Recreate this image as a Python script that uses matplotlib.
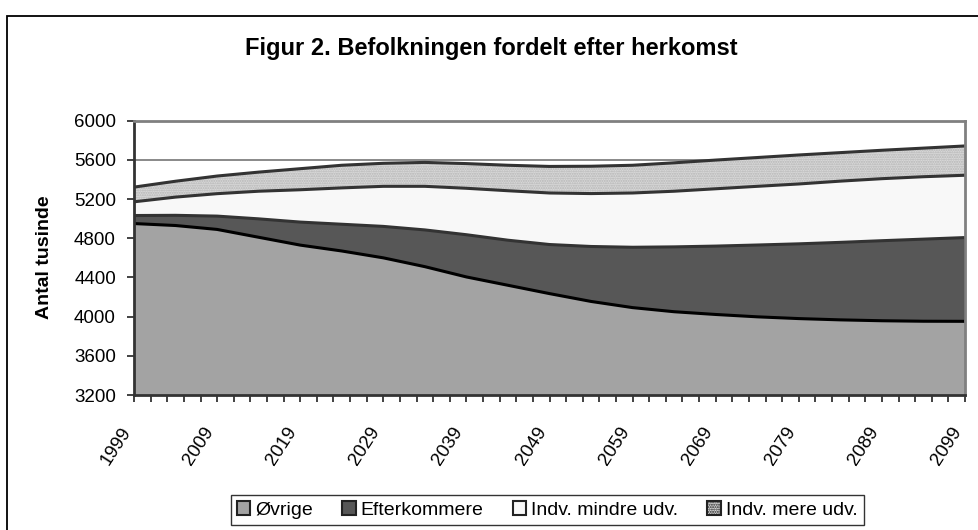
import matplotlib
matplotlib.use("Agg")
import matplotlib.pyplot as plt
import numpy as np
from matplotlib.patches import Patch, Rectangle
from matplotlib.transforms import ScaledTranslation

plt.rcParams['font.family'] = ['Liberation Sans', 'DejaVu Sans']

years = [1999, 2004, 2009, 2014, 2019, 2024, 2029, 2034, 2039, 2044, 2049,
         2054, 2059, 2064, 2069, 2074, 2079, 2084, 2089, 2094, 2099]
ovrige = [4950, 4930, 4890, 4810, 4730, 4670, 4600, 4510, 4405, 4320, 4235,
          4155, 4092, 4050, 4022, 3998, 3980, 3967, 3958, 3953, 3952]
efterkommere = [82, 104, 136, 188, 235, 273, 321, 375, 431, 460, 501,
                561, 616, 662, 698, 733, 763, 791, 817, 838, 855]
indv_mindre = [140, 186, 229, 282, 330, 371, 409, 445, 474, 505, 526,
               540, 554, 568, 585, 599, 611, 625, 633, 637, 636]
indv_mere = [150, 162, 180, 195, 215, 231, 235, 244, 252, 260, 271,
             279, 283, 290, 293, 294, 296, 291, 290, 292, 299]

series_names = ["Øvrige", "Efterkommere", "Indv. mindre udv.", "Indv. mere udv."]
title = "Figur 2. Befolkningen fordelt efter herkomst"
ylabel = "Antal tusinde"
yticks = [3200, 3600, 4000, 4400, 4800, 5200, 5600, 6000]
xtick_years = list(range(1999, 2100, 10))

fig = plt.figure(figsize=(9.79, 5.30), dpi=100)
ax = fig.add_axes([0.1369, 0.2547, 0.8488, 0.5176])

x = np.array(years)
s1 = np.array(ovrige, dtype=float)
s2 = s1 + np.array(efterkommere)
s3 = s2 + np.array(indv_mindre)
s4 = s3 + np.array(indv_mere)

ymin = 3200
ax.fill_between(x, ymin, s1, facecolor='#a3a3a3', edgecolor='none', zorder=2)
ax.fill_between(x, s1, s2, facecolor='#575757', edgecolor='none', zorder=2)
ax.fill_between(x, s2, s3, facecolor='#f8f8f8', edgecolor='none', zorder=2)
ax.fill_between(x, s3, s4, facecolor='#d9d9d9', edgecolor='none', zorder=2)
ax.fill_between(x, s3, s4, facecolor='none', edgecolor='#b4b4b4', hatch='.......',
                linewidth=0, zorder=2)

ax.plot(x, s4, color='#333333', lw=2.2, zorder=3)
ax.plot(x, s3, color='#333333', lw=2.2, zorder=3)
ax.plot(x, s2, color='#333333', lw=2.2, zorder=3)
ax.plot(x, s1, color='#000000', lw=2.2, zorder=3)
ax.plot([x[-1], x[-1]], [s1[-1], s2[-1]], color='#000000', lw=2, zorder=3)

ax.set_xlim(1999, 2099)
ax.set_ylim(3200, 6000)
ax.set_yticks(yticks)
ax.set_yticklabels([str(v) for v in yticks])
ax.set_xticks(xtick_years)
ax.set_xticklabels([str(v) for v in xtick_years], rotation=57, ha='right',
                   va='center', rotation_mode='anchor')
ax.set_xticks(list(range(1999, 2100, 2)), minor=True)

ax.yaxis.grid(True, color='#808080', lw=1.3, zorder=1)
ax.set_axisbelow(True)

ax.tick_params(axis='both', which='both', direction='out', length=5, width=1.3,
               color='#333333', labelsize=13.5)
ax.tick_params(axis='y', which='major', pad=8)
ax.tick_params(axis='x', which='major', pad=19)
shift = ScaledTranslation(-7 / 100, 0, fig.dpi_scale_trans)
for lab in ax.get_xticklabels():
    lab.set_transform(lab.get_transform() + shift)

for side in ['top', 'right']:
    ax.spines[side].set_color('#808080')
    ax.spines[side].set_linewidth(2)
for side in ['left', 'bottom']:
    ax.spines[side].set_color('#333333')
    ax.spines[side].set_linewidth(2)
for sp in ax.spines.values():
    sp.set_zorder(4)

fig.text(45 / 979, 0.515, ylabel, rotation=90, ha='center', va='center',
         fontsize=14, fontweight='bold')

fig.text(0.5015, 0.908, title, ha='center', va='center', fontsize=17,
         fontweight='bold')

handles = [
    Patch(facecolor='#a3a3a3', edgecolor='#222222', lw=1.5),
    Patch(facecolor='#575757', edgecolor='#222222', lw=1.5),
    Patch(facecolor='#f8f8f8', edgecolor='#222222', lw=1.5),
    Patch(facecolor='#d9d9d9', edgecolor='#222222', lw=1.5, hatch='.......'),
]
leg = fig.legend(handles, series_names, loc='center', bbox_to_anchor=(0.559, 0.0377),
                 ncol=4, fontsize=14, frameon=True, fancybox=False,
                 handlelength=0.7, handleheight=0.7, handletextpad=0.25,
                 columnspacing=1.5, borderpad=0.3)
leg.get_frame().set_edgecolor('#000000')
leg.get_frame().set_linewidth(1)

fig.patches.append(Rectangle((7 / 979, -0.1), 1.2, 1 - 16 / 530 + 0.1,
                             transform=fig.transFigure, fill=False,
                             edgecolor='#000000', lw=1.3))

fig.savefig('out.png', dpi=100)
